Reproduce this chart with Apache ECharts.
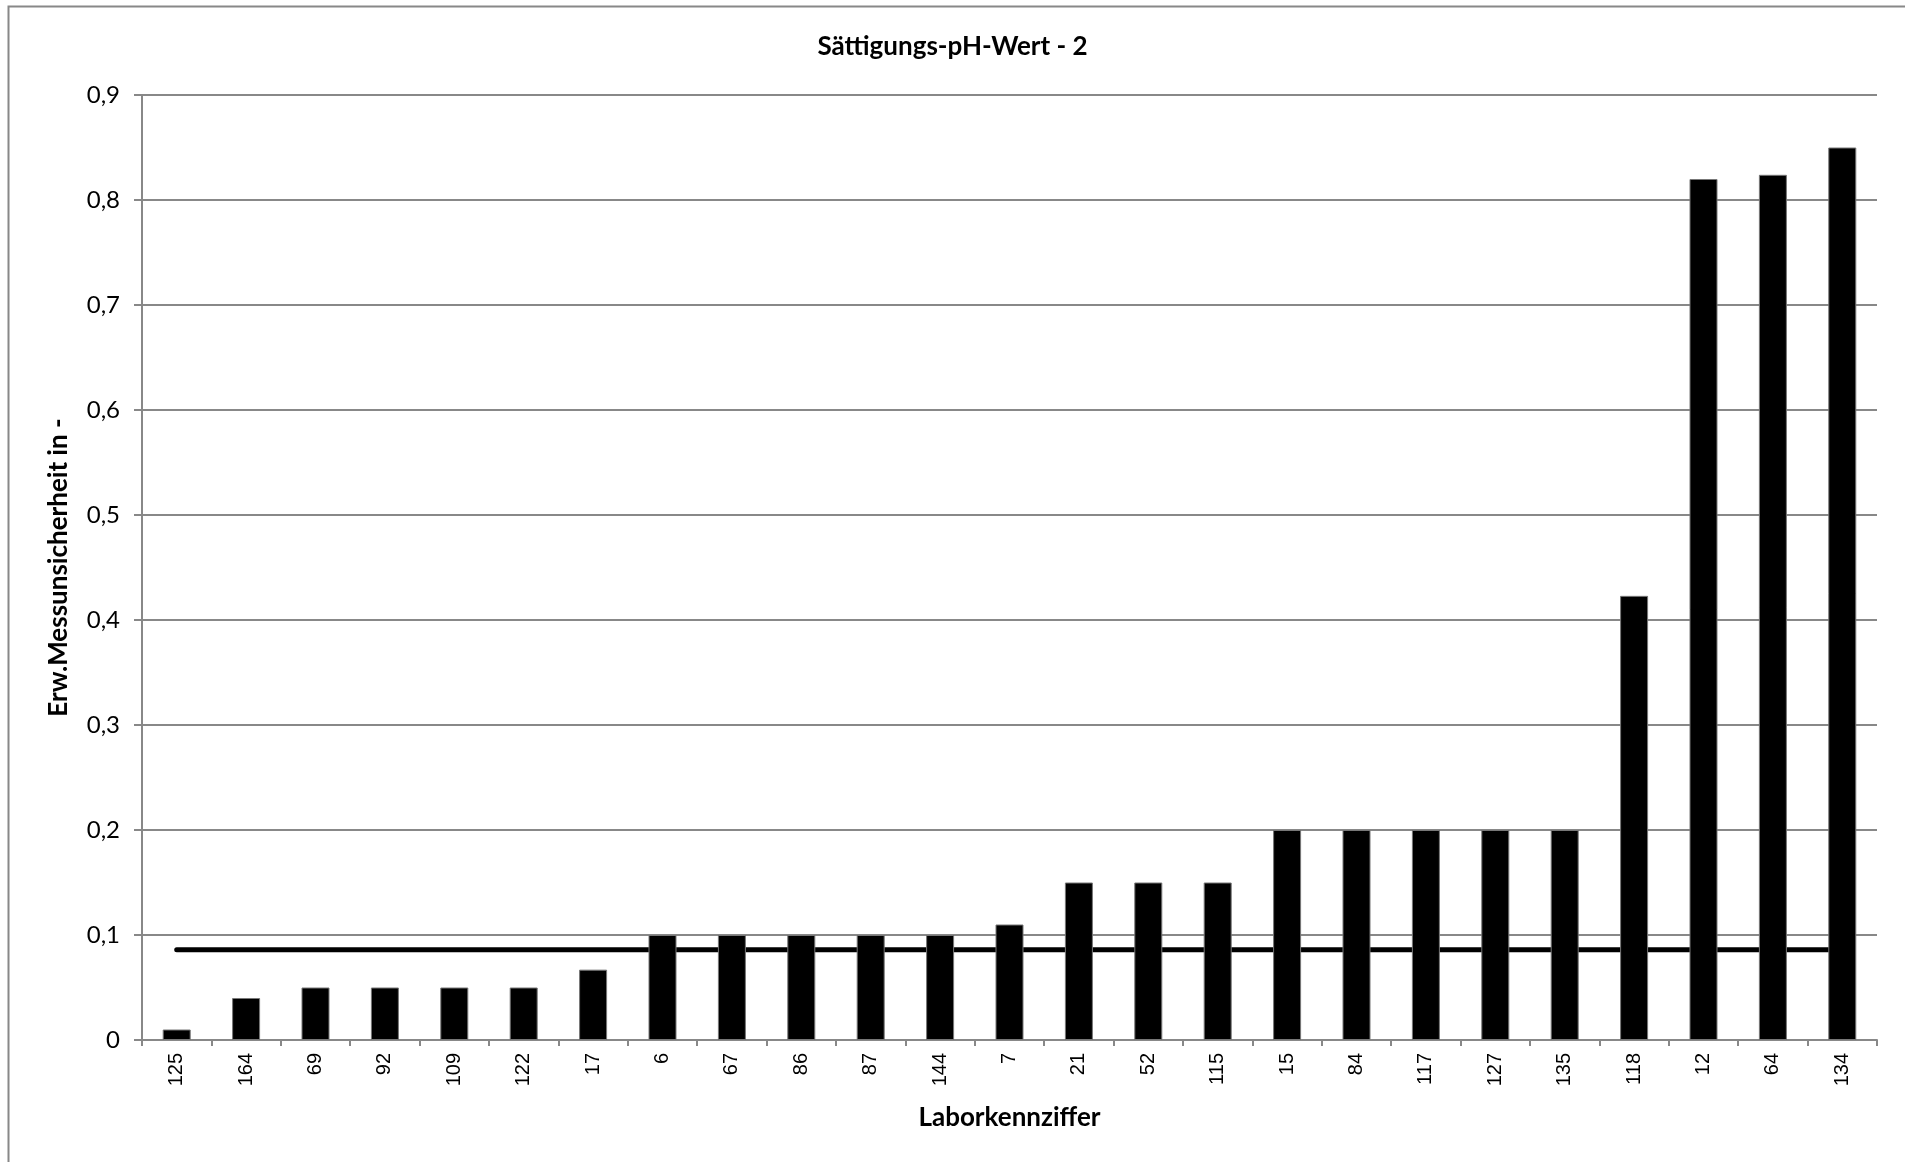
<!DOCTYPE html>
<html>
<head>
<meta charset="utf-8">
<script src="https://cdn.jsdelivr.net/npm/echarts@6/dist/echarts.min.js"></script>
<style>
html,body{margin:0;padding:0;background:#fff;}
#chart{width:1905px;height:1162px;}
</style>
</head>
<body>
<div id="chart"></div>
<script>
const categories = ['125','164','69','92','109','122','17','6','67','86','87','144','7','21','52','115','15','84','117','127','135','118','12','64','134'];
const values = [0.01,0.04,0.05,0.05,0.05,0.05,0.067,0.1,0.1,0.1,0.1,0.1,0.11,0.15,0.15,0.15,0.2,0.2,0.2,0.2,0.2,0.423,0.82,0.824,0.85];
const refLine = [0.086,0.086,0.086,0.086,0.086,0.086,0.086,0.086,0.086,0.086,0.086,0.086,0.086,0.086,0.086,0.086,0.086,0.086,0.086,0.086,0.086,0.086,0.086,0.086,0.086];
const yTicks = [0,0.1,0.2,0.3,0.4,0.5,0.6,0.7,0.8,0.9];

const chart = echarts.init(document.getElementById('chart'));
chart.setOption({
  animation: false,
  backgroundColor: '#fff',
  graphic: [{
    type: 'rect', z: -10,
    shape: {x: 8.5, y: 6.5, width: 1950, height: 1200},
    style: {fill: 'none', stroke: '#888', lineWidth: 2}
  }],
  title: {
    text: 'Sättigungs-pH-Wert - 2',
    left: 'center', top: 29,
    textStyle: {fontFamily: 'Lato', fontWeight: 'bold', fontSize: 26, color: '#000'}
  },
  grid: {left: 142, right: 28, top: 95, bottom: 122, containLabel: false},
  xAxis: {
    type: 'category',
    data: categories,
    boundaryGap: true,
    name: 'Laborkennziffer',
    nameLocation: 'middle',
    nameGap: 65,
    nameTextStyle: {fontFamily: 'Lato', fontWeight: 'bold', fontSize: 26, color: '#000'},
    axisLine: {lineStyle: {color: '#888', width: 2}},
    axisTick: {show: true, alignWithLabel: false, length: 6, lineStyle: {color: '#888', width: 2}},
    axisLabel: {rotate: 90, margin: 13, fontFamily: 'Liberation Sans', fontSize: 20, color: '#000', interval: 0}
  },
  yAxis: {
    type: 'value',
    min: 0, max: 0.9, interval: 0.1,
    name: 'Erw.Messunsicherheit in -',
    nameLocation: 'middle',
    nameRotate: 90,
    nameGap: 70,
    nameTextStyle: {fontFamily: 'Lato', fontWeight: 'bold', fontSize: 26, color: '#000'},
    axisLine: {show: true, lineStyle: {color: '#888', width: 2}},
    axisTick: {show: true, inside: false, length: 8, lineStyle: {color: '#888', width: 2}},
    splitLine: {show: true, lineStyle: {color: '#888', width: 2}},
    axisLabel: {
      margin: 22, fontFamily: 'Lato', fontSize: 24, color: '#000',
      formatter: function (v) {
        const t = yTicks.find(x => Math.abs(x - v) < 1e-9);
        return (t === 0 ? '0' : t.toFixed(1)).replace('.', ',');
      }
    }
  },
  series: [
    {
      type: 'line',
      data: refLine,
      symbol: 'none',
      z: 1,
      lineStyle: {color: '#000', width: 5, cap: 'round'}
    },
    {
      type: 'bar',
      data: values,
      barWidth: 28,
      z: 3,
      itemStyle: {color: '#000', borderColor: '#777', borderWidth: 1}
    }
  ]
});
</script>
</body>
</html>
